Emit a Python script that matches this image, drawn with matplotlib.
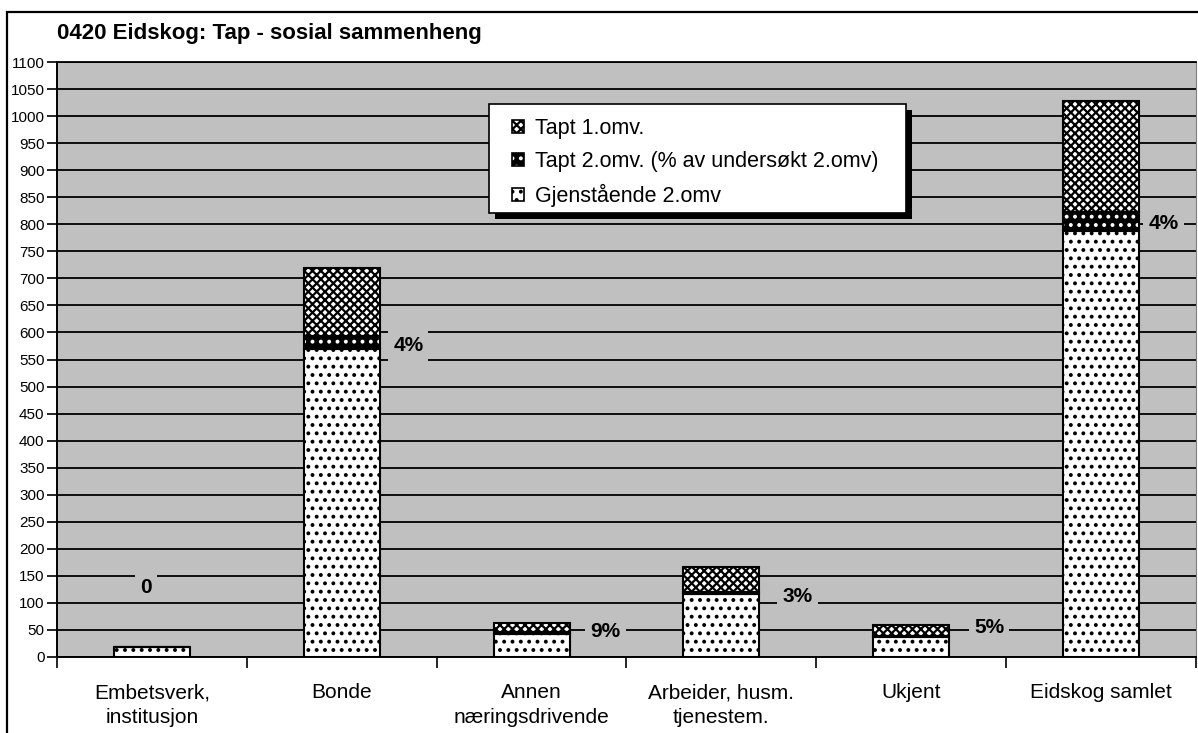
"""0420 Eidskog: Tap - sosial sammenheng (stablede søyler med mønster)."""
import matplotlib
matplotlib.use("Agg")
import matplotlib.pyplot as plt
import numpy as np
from matplotlib.patches import Patch, Rectangle
from matplotlib.legend_handler import HandlerTuple

plt.rcParams["font.family"] = ["Liberation Sans", "DejaVu Sans"]
plt.rcParams["hatch.linewidth"] = 1.6

CATEGORIES = ["Embetsverk,\ninstitusjon", "Bonde", "Annen\nnæringsdrivende",
              "Arbeider, husm.\ntjenestem.", "Ukjent", "Eidskog samlet"]
GJENSTAENDE = [18, 570, 42, 117, 37, 788]
TAPT_2 = [0, 24, 4, 4, 2, 34]
TAPT_1 = [0, 126, 17, 46, 20, 205]
PCT_LABELS = ["0", "4%", "9%", "3%", "5%", "4%"]
LABEL_Y = [129, 575, 48, 111, 55, 801]
LABEL_DX = [-0.03, 0.35, 0.39, 0.40, 0.41, 0.33]

GRAY = "#c0c0c0"
W, H = 1198, 733


def fx(px):
    return px / W


def fy(py):
    return 1 - py / H


fig = plt.figure(figsize=(W / 100, H / 100), dpi=100)
fig.patch.set_facecolor("white")
ax = fig.add_axes([fx(57), fy(657), fx(1196 - 57), (657 - 62) / H])
ax.set_facecolor(GRAY)

# ytre ramme rundt diagrammet
fig.add_artist(Rectangle((fx(7), -0.2), 1.2, fy(12) + 0.2, transform=fig.transFigure,
                         fill=False, edgecolor="black", linewidth=1.6, zorder=0))

x = np.arange(len(CATEGORIES))
gj = np.array(GJENSTAENDE)
t2 = np.array(TAPT_2)
t1 = np.array(TAPT_1)
width = 0.4

# (fyllfarge, mønsterfarge, mønster, bunn, høyde)
layers = [
    ("white", "black", "..", 0, gj),
    ("black", "white", "..", gj, t2),
    ("white", "black", "xxxx", gj + t2, t1),
]
handles = []
for face, hcol, hatch, bottom, height in layers:
    ax.bar(x, height, width, bottom=bottom, color=face, edgecolor=hcol,
           hatch=hatch, linewidth=0, zorder=3)
    ax.bar(x, height, width, bottom=bottom, fill=False, edgecolor="black",
           linewidth=1.5, zorder=4)
    handles.append((Patch(facecolor=face, edgecolor=hcol, hatch=hatch, linewidth=0),
                    Patch(fill=False, edgecolor="black", linewidth=1.2)))

for xi, lab, ly, dx in zip(x, PCT_LABELS, LABEL_Y, LABEL_DX):
    ax.text(xi + dx, ly, lab, ha="center", va="center", fontsize=15,
            fontweight="bold", zorder=5,
            bbox=dict(boxstyle="square,pad=0.25", facecolor=GRAY, edgecolor="none"))

ax.set_xlim(-0.5, len(CATEGORIES) - 0.5)
ax.set_ylim(0, 1100)
ax.set_yticks(np.arange(0, 1101, 50))
ax.tick_params(axis="y", labelsize=11, length=7, width=1.2, direction="out", pad=2)
ax.grid(axis="y", color="black", linewidth=1.3, zorder=1)
ax.set_axisbelow(True)

ax.set_xticks(np.arange(-0.5, len(CATEGORIES), 1.0))
ax.set_xticklabels([])
ax.set_xticks(x, minor=True)
ax.set_xticklabels(CATEGORIES, minor=True, fontsize=15, linespacing=1.4)
ax.tick_params(axis="x", which="major", length=8, width=1.2, direction="out")
ax.tick_params(axis="x", which="minor", length=0, pad=19)

for side in ["left", "bottom"]:
    ax.spines[side].set_linewidth(1.4)
    ax.spines[side].set_color("black")
ax.spines["top"].set_color("black")
ax.spines["top"].set_linewidth(1.3)
ax.spines["right"].set_color("#808080")

fig.text(fx(57), fy(34), "0420 Eidskog: Tap - sosial sammenheng",
         fontsize=16, fontweight="bold", ha="left", va="center")

# legende: egen ramme med svart skygge
fig.add_artist(Rectangle((fx(495), fy(219)), fx(906 - 489), (213 - 104) / H,
                         transform=fig.transFigure, facecolor="black",
                         edgecolor="none", zorder=8))
fig.add_artist(Rectangle((fx(489), fy(213)), fx(906 - 489), (213 - 104) / H,
                         transform=fig.transFigure, facecolor="white",
                         edgecolor="black", linewidth=1.2, zorder=9))
leg_labels = ["Tapt 1.omv.", "Tapt 2.omv. (% av undersøkt 2.omv)", "Gjenstående 2.omv"]
leg = fig.legend(handles[::-1], leg_labels,
                 handler_map={tuple: HandlerTuple(ndivide=1)},
                 loc="upper left", bbox_to_anchor=(fx(512), fy(118)),
                 borderaxespad=0, borderpad=0, fontsize=15.5, frameon=False,
                 handlelength=0.55, handleheight=0.55, handletextpad=0.5,
                 labelspacing=0.55)
leg.set_zorder(10)

fig.savefig("out.png", dpi=100)
